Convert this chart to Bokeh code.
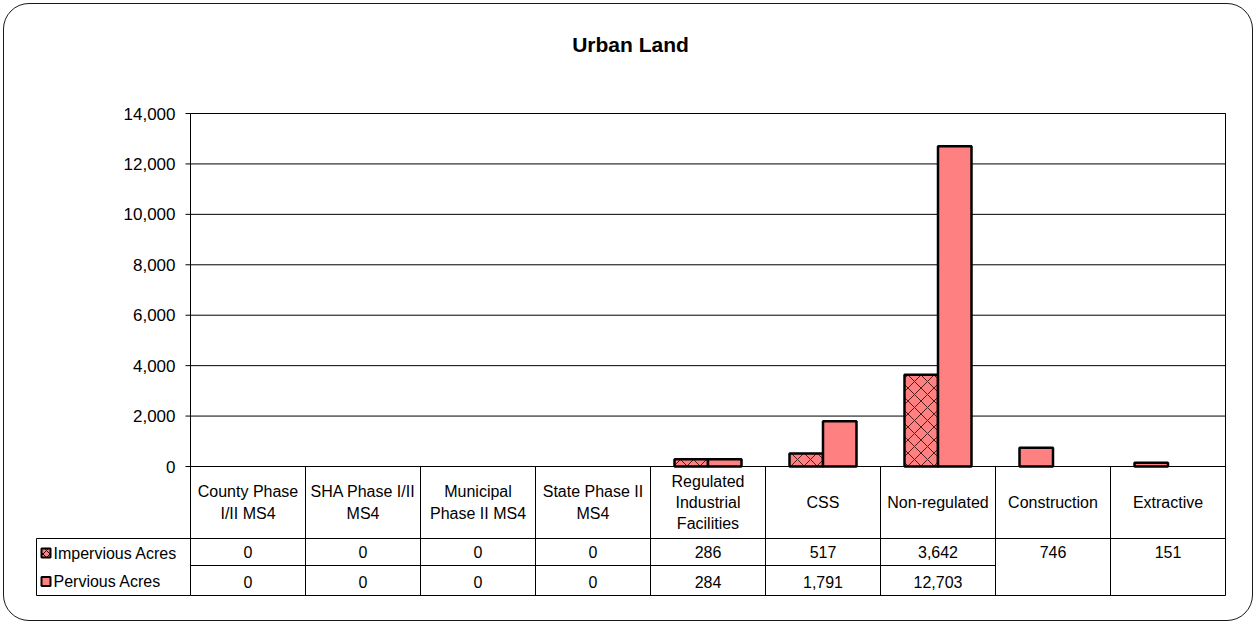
from bokeh.plotting import figure
from bokeh.models import Range1d, Label
from bokeh.core.properties import value
from bokeh.embed import file_html
from bokeh.resources import INLINE

# ---------------- data ----------------
title_text = "Urban Land"
categories = ["County Phase\nI/II MS4", "SHA Phase I/II\nMS4", "Municipal\nPhase II MS4",
              "State Phase II\nMS4", "Regulated\nIndustrial\nFacilities", "CSS",
              "Non-regulated", "Construction", "Extractive"]
series_names = ["Impervious Acres", "Pervious Acres"]
impervious = [0, 0, 0, 0, 286, 517, 3642, None, None]
pervious = [0, 0, 0, 0, 284, 1791, 12703, None, None]
combined = [None, None, None, None, None, None, None, 746, 151]   # single merged value
yticks = [0, 2000, 4000, 6000, 8000, 10000, 12000, 14000]

# ---------------- style / layout ----------------
FONT = "Liberation Sans"
BAR = "#FF8080"
HATCH = "#2a0a0a"
MARGIN = 3
W, H = 1250, 618          # canvas size (1px css border each side + margin)
OX = OY = MARGIN + 1      # page position of canvas origin
FL, FR, FT, FB = 190, 1225, 113, 595   # plot area / table edges in page px
Y0 = 466                  # page y of value 0
LEG_L = 36                # legend column left edge
ROW_H = 538               # header bottom
ROW_M = 565               # between series rows
VMAX = yticks[-1]
n = len(categories)
CAT_W = (FR - FL) / n
PPV = (Y0 - FT) / VMAX     # px per value


def dx(px):
    return (px - FL) / CAT_W - 0.5


def dy(py):
    return (Y0 - py) / PPV


p = figure(width=W, height=H, output_backend="svg", toolbar_location=None,
           x_axis_location=None, y_axis_location=None, title=None,
           x_range=Range1d(dx(OX), dx(OX + W)),
           y_range=Range1d(dy(OY + H), dy(OY)),
           min_border=0)
p.styles = {"border": "1px solid #1a1a1a", "border-radius": "26px",
            "margin": f"{MARGIN}px"}
p.border_fill_color = None
p.background_fill_color = None
p.outline_line_color = None
p.grid.visible = False

LINE = dict(line_color="black", line_width=1)
XL, XR = -0.5, n - 0.5

# gridlines (value axis)
p.segment(x0=[XL] * len(yticks), x1=[XR] * len(yticks), y0=yticks, y1=yticks, **LINE)
# tick marks and labels
p.segment(x0=[dx(FL - 5)] * len(yticks), x1=[XL] * len(yticks), y0=yticks, y1=yticks, **LINE)
p.text(x=[dx(FL - 15)] * len(yticks), y=yticks, text=[f"{t:,}" for t in yticks],
       text_align="right", text_baseline="middle", text_font=value(FONT),
       text_font_size="17px", text_color="black")

# plot area + table box
p.quad(left=[XL], right=[XR], top=[VMAX], bottom=[dy(FB)], fill_color=None, **LINE)

idx = list(range(n))
off = 16.75 / CAT_W
bw = 33.5 / CAT_W


def nz(vals, shift):
    xs, ts = [], []
    for i, v in zip(idx, vals):
        if v is not None and v > 0:
            xs.append(i + shift)
            ts.append(v)
    return xs, ts


xi, ti = nz(impervious, -off)
p.vbar(x=xi, top=ti, bottom=0, width=bw, fill_color=BAR, line_color="black",
       line_width=2.5, hatch_pattern="x", hatch_color=HATCH, hatch_scale=13,
       hatch_weight=1, hatch_alpha=0.85)
xp, tp = nz(pervious, off)
p.vbar(x=xp, top=tp, bottom=0, width=bw, fill_color=BAR, line_color="black",
       line_width=2.5)
xc, tc = nz(combined, -off)
p.vbar(x=xc, top=tc, bottom=0, width=bw, fill_color=BAR, line_color="black",
       line_width=2.5)

# ---------------- data table ----------------
vx = [k - 0.5 for k in range(1, n)]
p.segment(x0=vx, x1=vx, y0=[0] * (n - 1), y1=[dy(FB)] * (n - 1), **LINE)
# header bottom line, extends over the legend column
p.segment(x0=[dx(LEG_L)], x1=[XR], y0=[dy(ROW_H)], y1=[dy(ROW_H)], **LINE)
# bottom of legend column and its left edge
p.segment(x0=[dx(LEG_L), dx(LEG_L)], x1=[XL, dx(LEG_L)],
          y0=[dy(FB), dy(ROW_H)], y1=[dy(FB), dy(FB)], **LINE)
# line between series rows (only where both series exist)
last_both = max(i for i in idx if impervious[i] is not None and pervious[i] is not None)
p.segment(x0=[XL], x1=[last_both + 0.5], y0=[dy(ROW_M)], y1=[dy(ROW_M)], **LINE)

# header labels
p.text(x=idx, y=[dy((Y0 + ROW_H) / 2)] * n, text=categories, text_align="center",
       text_baseline="middle", text_font=value(FONT), text_font_size="16px",
       text_line_height=1.24, text_color="black")


def fmt(v):
    return f"{v:,.0f}"


ri = [(i, fmt(v)) for i, v in zip(idx, impervious) if v is not None]
rp = [(i, fmt(v)) for i, v in zip(idx, pervious) if v is not None]
rc = [(i, fmt(v)) for i, v in zip(idx, combined) if v is not None]
y_imp = dy((ROW_H + ROW_M) / 2)
y_per = dy((ROW_M + FB) / 2 + 1)
for rows, yy in ((ri, y_imp), (rp, y_per), (rc, y_imp)):
    p.text(x=[r[0] for r in rows], y=[yy] * len(rows), text=[r[1] for r in rows],
           text_align="center", text_baseline="middle", text_font=value(FONT),
           text_font_size="16px", text_color="black")

# legend keys + names
key_rows = [(ROW_H + ROW_M) / 2 + 1, (ROW_M + FB) / 2 + 1]
for k, (name, yc) in enumerate(zip(series_names, key_rows)):
    kw = dict(hatch_pattern="x", hatch_color=HATCH, hatch_scale=7, hatch_weight=1) if k == 0 else {}
    p.quad(left=[dx(41)], right=[dx(50)], top=[dy(yc - 4.5)], bottom=[dy(yc + 4.5)],
           fill_color=BAR, line_color="black", line_width=2, **kw)
    p.text(x=[dx(53)], y=[dy(yc)], text=[name], text_align="left",
           text_baseline="middle", text_font=value(FONT), text_font_size="16px",
           text_color="black")

# title
p.add_layout(Label(x=dx(630), y=dy(44), text=title_text, text_align="center",
                   text_baseline="middle", text_font=FONT, text_font_size="21px",
                   text_font_style="bold", text_color="black"))

open("out.html", "w").write(file_html(p, INLINE))
